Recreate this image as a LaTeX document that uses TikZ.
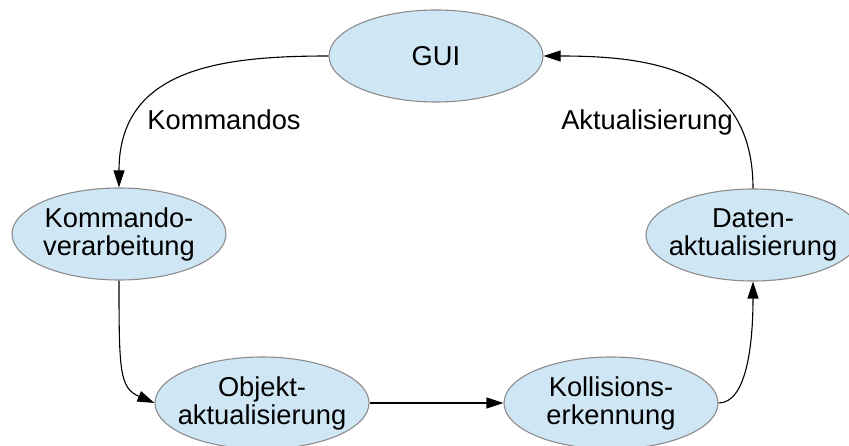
\documentclass[tikz,border=0pt]{standalone}
\usepackage{fontspec}
\setmainfont{Liberation Sans}
\usetikzlibrary{shapes.geometric,arrows.meta}
\definecolor{bubble}{HTML}{CFE7F5}
\definecolor{rim}{HTML}{8C8C8C}
\begin{document}
\begin{tikzpicture}[x=1pt,y=-1pt,
  stage/.style={ellipse, draw=rim, line width=1.1pt, fill=bubble,
    minimum width=214pt, minimum height=92pt,
    inner xsep=-15pt, inner ysep=0pt, align=center,
    font=\fontsize{27.3}{28}\selectfont},
  flow/.style={draw=black, line width=1.1pt, -{Triangle[length=17pt,width=11pt]}},
  tag/.style={font=\fontsize{27.3}{28}\selectfont, anchor=base, inner sep=0pt}]
\useasboundingbox (0,0) rectangle (849,446);
\clip (0,0) rectangle (849,446);

% processing stages
\node[stage] (gui) at (436,56)  {GUI};
\node[stage] (kv)  at (119,234) {Kommando-\\verarbeitung};
\node[stage] (oa)  at (262,403) {Objekt-\\aktualisierung};
\node[stage] (ke)  at (611,403) {Kollisions-\\erkennung};
\node[stage] (da)  at (753,235) {Daten-\\aktualisierung};

% cycle of the main loop
\draw[flow] (gui.west) .. controls +(-108,0) and +(0,-119) .. (kv.north);
\draw[flow] (kv.south) .. controls +(0,90) and +(-35,-15) .. (oa.west);
\draw[flow] (oa.east) -- (ke.west);
\draw[flow] (ke.east) .. controls +(28,0) and +(0,63) .. (da.south);
\draw[flow] (da.north) .. controls +(0,-119) and +(108,0) .. (gui.east);

% connector labels
\node[tag] (lk) at (224,130) {Kommandos};
\node[tag] (la) at (647,130) {Aktualisierung};
\end{tikzpicture}
\end{document}
